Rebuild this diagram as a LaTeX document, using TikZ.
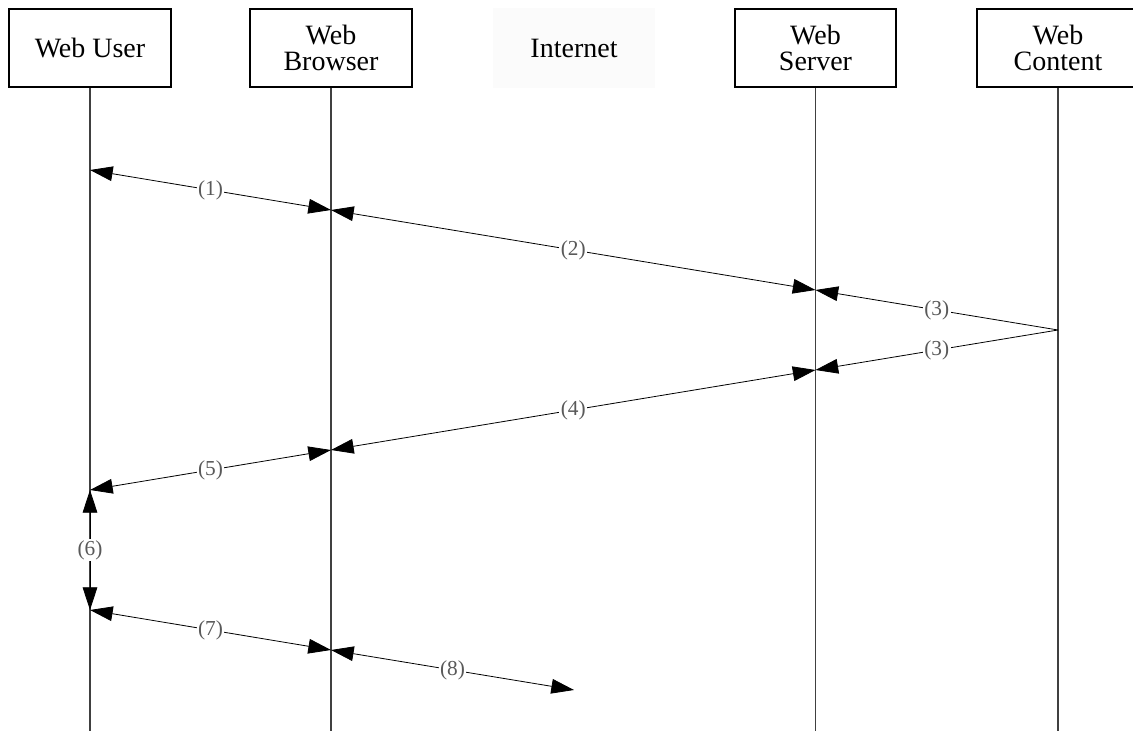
\documentclass[tikz,border=0pt]{standalone}
\usepackage{fontspec}
\setmainfont{Liberation Serif}
\usetikzlibrary{arrows.meta}
\begin{document}
\begin{tikzpicture}[x=0.75pt,y=-0.75pt,
  >={Triangle[length=17pt,width=11pt]},
  actor/.style={draw=black, line width=1.5pt, fill=white, minimum width=121pt,
    minimum height=59pt, inner sep=0pt, align=center,
    font=\fontsize{21}{19}\selectfont},
  cloud/.style={fill=black!1.5, minimum width=121pt, minimum height=60pt,
    inner sep=0pt, align=center, font=\fontsize{21}{19}\selectfont},
  life/.style={draw=black!75, line width=0.8pt},
  msg/.style={draw=black, line width=0.6pt},
  lbl/.style={fill=white, text=black!65, inner sep=1pt,
    font=\fontsize{16}{16}\selectfont}
]
\useasboundingbox (0,0) rectangle (1133,731);
\clip (0,0) rectangle (1133,731);
\fill[white] (0,0) rectangle (1133,731);

% actors
\node[actor] (user) at (90,48) {Web User};
\node[actor] (browser) at (331,48) {Web\\Browser};
\node[cloud] (net) at (574,48) {Internet};
\node[actor] (server) at (815.5,48) {Web\\Server};
\node[actor] (content) at (1058,48) {Web\\Content};

% lifeline ends
\coordinate (userEnd) at (90,731);
\coordinate (browserEnd) at (331,731);
\coordinate (serverEnd) at (815.5,731);
\coordinate (contentEnd) at (1058,731);

\draw[life] (user.south) -- (userEnd);
\draw[life] (browser.south) -- (browserEnd);
\draw[life] (server.south) -- (serverEnd);
\draw[life] (content.south) -- (contentEnd);

% message points
\coordinate (u1) at (90,170);
\coordinate (b1) at (331,210);
\coordinate (s2) at (815.5,290);
\coordinate (c3) at (1058,330);
\coordinate (s3) at (815.5,370);
\coordinate (b4) at (331,450);
\coordinate (u5) at (90,490);
\coordinate (u6) at (90,610);
\coordinate (b7) at (331,650);
\coordinate (n8) at (574,690);

\draw[msg,<->] (u1) -- node[lbl]{(1)} (b1);
\draw[msg,<->] (b1) -- node[lbl]{(2)} (s2);
\draw[msg,->] (c3) -- node[lbl]{(3)} (s2);
\draw[msg,->] (c3) -- node[lbl]{(3)} (s3);
\draw[msg,<->] (s3) -- node[lbl]{(4)} (b4);
\draw[msg,<->] (b4) -- node[lbl]{(5)} (u5);
\draw[msg,<->] (u5) -- node[lbl]{(6)} (u6);
\draw[msg,<->] (u6) -- node[lbl]{(7)} (b7);
\draw[msg,<->] (b7) -- node[lbl]{(8)} (n8);
\end{tikzpicture}
\end{document}
